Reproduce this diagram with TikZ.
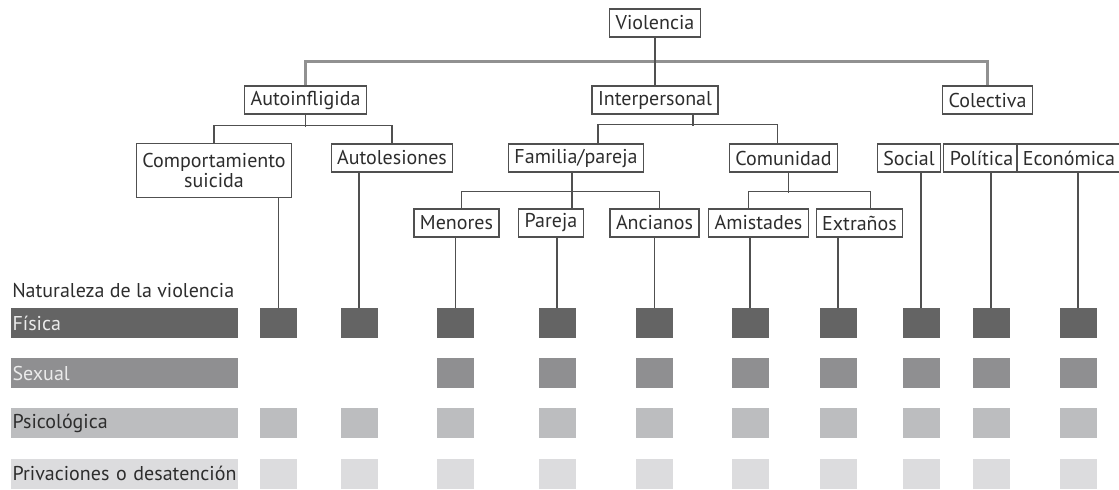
\documentclass[tikz,border=0pt]{standalone}
\usepackage{fontspec}
\setmainfont{PT Sans}
\usepackage{tikz}
\usetikzlibrary{calc}
\definecolor{fisgray}{RGB}{100,100,100}
\definecolor{sexgray}{RGB}{143,143,145}
\definecolor{psigray}{RGB}{188,189,191}
\definecolor{desgray}{RGB}{220,220,222}
\definecolor{linegray}{RGB}{80,80,80}
\definecolor{toplinegray}{RGB}{145,145,145}
\definecolor{textgray}{RGB}{45,45,45}
\definecolor{bartext}{RGB}{235,235,235}

\begin{document}
\begin{tikzpicture}[
  x=0.75pt, y=-0.75pt,
  font=\fontsize{15}{17}\selectfont, text=textgray,
  cat/.style={draw=linegray,line width=0.9pt,fill=white,inner xsep=4.5pt,inner ysep=2.5pt,minimum height=21pt,align=center},
  bar/.style={fill=#1,anchor=west,minimum height=22.5pt,text width=168pt,inner xsep=1pt,inner ysep=0pt,align=left},
  cell/.style={fill=#1,minimum width=27.75pt,minimum height=22.5pt,inner sep=0pt},
  ln/.style={draw=linegray,line width=1pt},
  lntop/.style={draw=toplinegray,line width=1.7pt}
]
\useasboundingbox (0,0) rectangle (1119,489);

% TOP: root and the three kinds
\node[cat] (viol) at (655,23) {Violencia};
\node[cat] (auto) at (305.5,100) {Autoinfligida};
\node[cat] (inter) at (655,100) {Interpersonal};
\node[cat] (colec) at (987.5,100) {Colectiva};

% SECOND ROW
\node[cat,minimum height=40pt] (comp) at (214,170.5) {Comportamiento\\[-2pt]suicida};
\node[cat] (autol) at (392,158) {Autolesiones};
\node[cat] (fam) at (576,158) {Familia/pareja};
\node[cat] (comu) at (783.5,158) {Comunidad};
\node[cat] (soc) at (909,158) {Social};
\node[cat] (pol) at (981.5,158) {Política};
\node[cat] (eco) at (1069,158) {Económica};

% THIRD ROW
\node[cat] (men) at (456.5,223) {Menores};
\node[cat] (par) at (551,223) {Pareja};
\node[cat] (anc) at (654.5,223) {Ancianos};
\node[cat] (ami) at (758.5,223) {Amistades};
\node[cat] (ext) at (859.5,223) {Extraños};

% tree connectors
\draw[lntop] (auto.north) -- ++(0,-24) -| (colec.north);
\draw[ln] (viol.south) -- (viol.south |- inter.north);
\draw[ln] (auto.south) -- ++(0,12);
\draw[ln] (comp.north) -- ++(0,-18) -| (autol.north);
\draw[ln] ($(inter.south)+(38,0)$) -- ++(0,11);
\draw[ln] ($(fam.north)+(22,0)$) -- ++(0,-19) -| ($(comu.north)+(-6,0)$);
\draw[ln] ($(fam.south)+(-4,0)$) -- ($(par.north)+(21,0)$);
\draw[ln] ($(men.north)+(5,0)$) -- ++(0,-17) -| ($(anc.north)+(5,0)$);
\draw[ln] ($(comu.south)+(5,0)$) -- ++(0,20);
\draw[ln] ($(ami.north)+(-10,0)$) -- ++(0,-17) -| ($(ext.north)+(11,0)$);

% LEFT: nature of the violence
\node[anchor=base west,inner sep=0pt] (nat) at (12,297) {Naturaleza de la violencia};
\node[bar=fisgray,text=bartext] (lfis) at (11,323) {Física};
\node[bar=sexgray,text=bartext] (lsex) at (11,373) {Sexual};
\node[bar=psigray] (lpsi) at (11,423) {Psicológica};
\node[bar=desgray] (ldes) at (11,473.5) {\mbox{Privaciones o desatención}};

% ROW: fisica
\node[cell=fisgray] (f1) at (278.5,323) {};
\node[cell=fisgray] (f2) at (359,323) {};
\node[cell=fisgray] (f3) at (455.5,323) {};
\node[cell=fisgray] (f4) at (557,323) {};
\node[cell=fisgray] (f5) at (654.5,323) {};
\node[cell=fisgray] (f6) at (750,323) {};
\node[cell=fisgray] (f7) at (838,323) {};
\node[cell=fisgray] (f8) at (921,323) {};
\node[cell=fisgray] (f9) at (991,323) {};
\node[cell=fisgray] (f10) at (1078,323) {};

% ROW: sexual
\node[cell=sexgray] (s3) at (455.5,373) {};
\node[cell=sexgray] (s4) at (557,373) {};
\node[cell=sexgray] (s5) at (654.5,373) {};
\node[cell=sexgray] (s6) at (750,373) {};
\node[cell=sexgray] (s7) at (838,373) {};
\node[cell=sexgray] (s8) at (921,373) {};
\node[cell=sexgray] (s9) at (991,373) {};
\node[cell=sexgray] (s10) at (1078,373) {};

% ROW: psicologica
\node[cell=psigray] (p1) at (278.5,423) {};
\node[cell=psigray] (p2) at (359,423) {};
\node[cell=psigray] (p3) at (455.5,423) {};
\node[cell=psigray] (p4) at (557,423) {};
\node[cell=psigray] (p5) at (654.5,423) {};
\node[cell=psigray] (p6) at (750,423) {};
\node[cell=psigray] (p7) at (838,423) {};
\node[cell=psigray] (p8) at (921,423) {};
\node[cell=psigray] (p9) at (991,423) {};
\node[cell=psigray] (p10) at (1078,423) {};

% ROW: privaciones
\node[cell=desgray] (d1) at (278.5,473.5) {};
\node[cell=desgray] (d2) at (359,473.5) {};
\node[cell=desgray] (d3) at (455.5,473.5) {};
\node[cell=desgray] (d4) at (557,473.5) {};
\node[cell=desgray] (d5) at (654.5,473.5) {};
\node[cell=desgray] (d6) at (750,473.5) {};
\node[cell=desgray] (d7) at (838,473.5) {};
\node[cell=desgray] (d8) at (921,473.5) {};
\node[cell=desgray] (d9) at (991,473.5) {};
\node[cell=desgray] (d10) at (1078,473.5) {};

% leaves down to the first row
\draw[ln] (comp.south -| f1.north) -- (f1.north);
\draw[ln] (autol.south -| f2.north) -- (f2.north);
\draw[ln] (men.south -| f3.north) -- (f3.north);
\draw[ln] (par.south -| f4.north) -- (f4.north);
\draw[ln] (anc.south -| f5.north) -- (f5.north);
\draw[ln] (ami.south -| f6.north) -- (f6.north);
\draw[ln] (ext.south -| f7.north) -- (f7.north);
\draw[ln] (soc.south -| f8.north) -- (f8.north);
\draw[ln] (pol.south -| f9.north) -- (f9.north);
\draw[ln] (eco.south -| f10.north) -- (f10.north);

\end{tikzpicture}
\end{document}
